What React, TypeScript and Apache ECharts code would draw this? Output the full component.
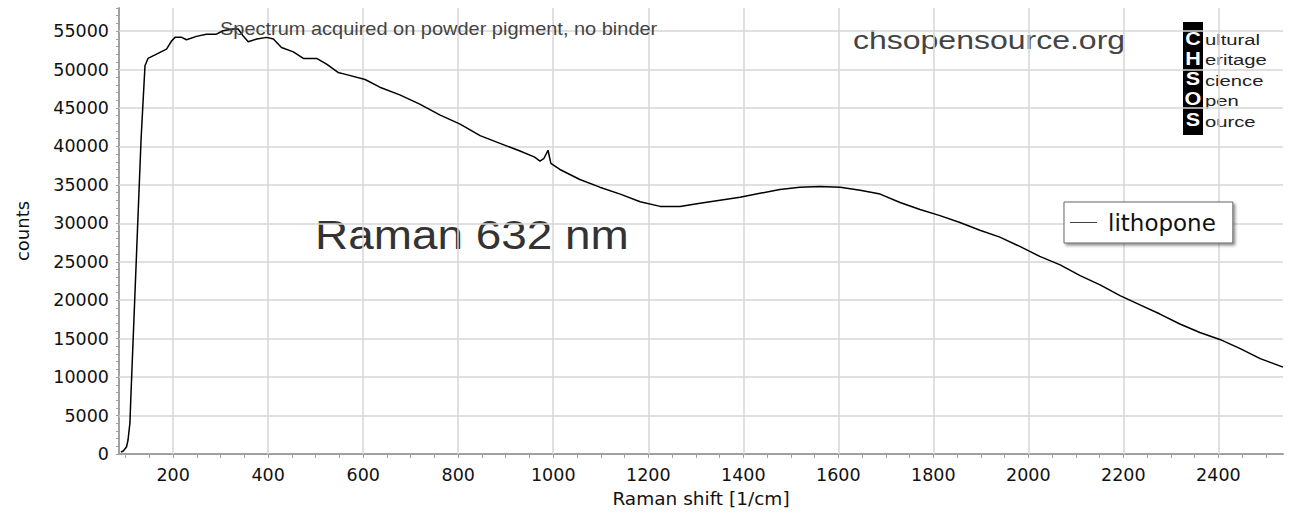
import React, { useEffect, useRef } from 'react';
import * as echarts from 'echarts';

// Raman shift [1/cm] and counts (lithopone)
const ramanShift = [
  90, 95, 102, 105, 109, 111, 112.4, 132.5, 140.7, 147, 165, 186, 197, 204, 218, 228, 249,
  270, 291, 305, 326, 337, 347, 358, 376, 397, 411, 428, 453, 474, 502, 523, 547, 561, 604,
  635, 677, 719, 761, 804, 846, 888, 930, 961, 972, 980, 989, 995, 1014, 1056, 1098, 1141,
  1183, 1225, 1267, 1309, 1351, 1393, 1435, 1477, 1519, 1561, 1604, 1646, 1688, 1730, 1772,
  1814, 1856, 1898, 1940, 1982, 2024, 2067, 2109, 2151, 2193, 2235, 2277, 2319, 2361, 2403,
  2446, 2488, 2536,
];
const counts = [
  260, 390, 950, 1820, 4040, 7470, 9640, 41000, 50500, 51440, 52000, 52650, 53740, 54180, 54180, 53870, 54310,
  54600, 54600, 55040, 55260, 55260, 54390, 53610, 53960, 54180, 53960, 52870, 52300, 51440, 51440, 50700, 49620, 49400, 48700,
  47700, 46700, 45500, 44100, 42900, 41400, 40400, 39400, 38600, 38100, 38400, 39500, 37800, 37000, 35700, 34700, 33800,
  32800, 32200, 32200, 32600, 33000, 33400, 33900, 34400, 34700, 34800, 34700, 34300, 33800, 32700, 31800,
  31000, 30100, 29100, 28200, 27000, 25700, 24600, 23200, 22000, 20600, 19400, 18200, 16900, 15800, 14900,
  13700, 12400, 11300,
];

const xLabelValues = [200, 400, 600, 800, 1000, 1200, 1400, 1600, 1800, 2000, 2200, 2400];
const yLabelValues = [0, 5000, 10000, 15000, 20000, 25000, 30000, 35000, 40000, 45000, 50000, 55000];
const xMin = 86;
const xMax = 2536;
const yMin = 0;
const yMax = 58000;
const xMinorStep = 50;
const yMinorStep = 1000;

const seriesName = 'lithopone';
const annotation = 'Spectrum acquired on powder pigment, no binder';
const siteText = 'chsopensource.org';
const bigLabel = 'Raman 632 nm';
const logoLetters = ['C', 'H', 'S', 'O', 'S'];
const logoWords = ['ultural', 'eritage', 'cience', 'pen', 'ource'];

function ticksBetween(lo: number, hi: number, step: number): number[] {
  const out: number[] = [];
  for (let v = Math.ceil(lo / step) * step; v <= hi; v += step) out.push(v);
  return out;
}

export default function App() {
  const ref = useRef<HTMLDivElement>(null);

  useEffect(() => {
    if (!ref.current) return;
    const chart = echarts.init(ref.current, null, { renderer: 'svg' });
    const data = ramanShift.map((x, i) => [x, counts[i]]);
    const xTicks = ticksBetween(xMin, xMax, xMinorStep);
    const yTicks = ticksBetween(yMin, yMax, yMinorStep);
    const gridData: any[] = [
      ...xLabelValues.map((v) => ({ xAxis: v })),
      ...yLabelValues.filter((v) => v > yMin).map((v) => ({ yAxis: v })),
    ];
    const axisFont = 'DejaVu Sans';
    const plain = (v: number) => String(v);

    const logoGraphics: any[] = [
      { type: 'rect', shape: { x: 1183, y: 22, width: 20, height: 113 }, style: { fill: '#000' } },
      ...logoLetters.map((l, i) => ({
        type: 'text',
        x: 1193,
        y: 38.5 + i * 20.2,
        scaleX: 1.2,
        style: {
          text: l,
          font: 'bold 18px "Liberation Sans", Arial, sans-serif',
          fill: '#fff',
          align: 'center',
          verticalAlign: 'middle',
        },
      })),
      ...logoWords.map((w, i) => ({
        type: 'text',
        x: 1205,
        y: 39.5 + i * 20.5,
        scaleX: 1.35,
        style: {
          text: w,
          font: '15px "Liberation Sans", Arial, sans-serif',
          fill: '#222',
          align: 'left',
          verticalAlign: 'middle',
        },
      })),
    ];

    chart.setOption({
      animation: false,
      backgroundColor: '#fff',
      grid: { left: 119, right: 10, top: 8, bottom: 70, containLabel: false },
      xAxis: {
        type: 'value',
        min: xMin,
        max: xMax,
        name: 'Raman shift [1/cm]',
        nameLocation: 'middle',
        nameGap: 33,
        nameTextStyle: { fontFamily: axisFont, fontSize: 18.5, color: '#111' },
        axisLine: { show: true, onZero: false, lineStyle: { color: '#a0a0a0', width: 2 } },
        axisTick: { show: true, customValues: xTicks, length: 4, lineStyle: { color: '#a0a0a0', width: 1 } },
        axisLabel: {
          customValues: xLabelValues,
          formatter: plain,
          fontFamily: axisFont,
          fontSize: 17.5,
          color: '#111',
          margin: 12,
        },
        splitLine: { show: false },
      },
      yAxis: {
        type: 'value',
        min: yMin,
        max: yMax,
        name: 'counts',
        nameLocation: 'middle',
        nameGap: 88,
        nameTextStyle: { fontFamily: axisFont, fontSize: 18, color: '#111' },
        axisLine: { show: true, lineStyle: { color: '#a0a0a0', width: 2 } },
        axisTick: { show: true, customValues: yTicks, length: 3, lineStyle: { color: '#a0a0a0', width: 1 } },
        axisLabel: {
          customValues: yLabelValues,
          formatter: plain,
          fontFamily: axisFont,
          fontSize: 17.5,
          color: '#111',
          margin: 10,
        },
        splitLine: { show: false },
      },
      legend: {
        data: [seriesName],
        left: 1064,
        top: 202,
        orient: 'vertical',
        backgroundColor: '#fff',
        borderColor: '#666',
        borderWidth: 1,
        borderRadius: 0,
        shadowBlur: 3,
        shadowColor: 'rgba(0,0,0,0.45)',
        shadowOffsetX: 2,
        shadowOffsetY: 2,
        padding: [8, 17, 8, 6],
        itemWidth: 27,
        itemHeight: 14,
        icon: 'path://M0,7 L27,7 L27,8 L0,8 Z',
        itemStyle: { color: '#444' },
        textStyle: { fontFamily: axisFont, fontSize: 23, color: '#111', lineHeight: 25, padding: [0, 0, 0, 6] },
      },
      series: [
        {
          name: seriesName,
          type: 'line',
          data,
          showSymbol: false,
          symbol: 'none',
          z: 3,
          lineStyle: { color: '#000', width: 1.5 },
          itemStyle: { color: '#000' },
          markLine: {
            silent: true,
            z: 1,
            symbol: ['none', 'none'],
            label: { show: false },
            lineStyle: { color: '#d6d6d6', type: 'solid', width: 1.5 },
            emphasis: { disabled: true },
            data: gridData,
          },
        },
      ],
      graphic: [
        {
          type: 'text',
          x: 220,
          y: 28.5,
          scaleX: 1.11,
          z: 10,
          style: {
            text: annotation,
            font: '18px "Liberation Sans", Arial, sans-serif',
            fill: '#444',
            align: 'left',
            verticalAlign: 'middle',
          },
        },
        {
          type: 'text',
          x: 853,
          y: 40.5,
          scaleX: 1.28,
          style: {
            text: siteText,
            font: '25px "Liberation Sans", Arial, sans-serif',
            fill: '#444',
            align: 'left',
            verticalAlign: 'middle',
          },
        },
        {
          type: 'text',
          x: 315,
          y: 234.5,
          scaleX: 1.12,
          style: {
            text: bigLabel,
            font: '41px "Liberation Sans", Arial, sans-serif',
            fill: '#333',
            align: 'left',
            verticalAlign: 'middle',
          },
        },
        ...logoGraphics,
      ],
    });

    return () => chart.dispose();
  }, []);

  return (
    <div
      ref={ref}
      style={{ position: 'fixed', left: 0, top: 0, width: 1293, height: 524 }}
    />
  );
}
